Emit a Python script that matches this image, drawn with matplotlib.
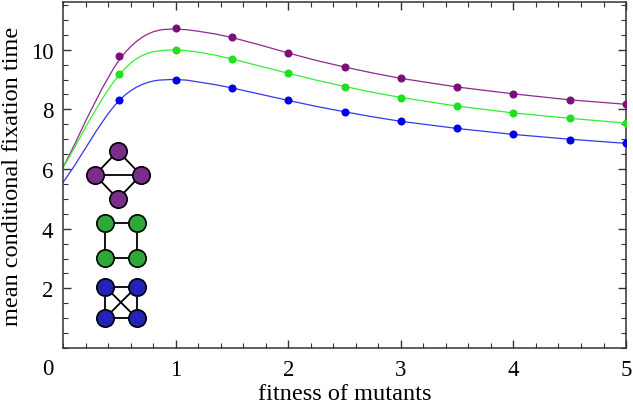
import numpy as np
import matplotlib.pyplot as plt
from matplotlib.ticker import MultipleLocator

plt.rcParams['font.family'] = ['Liberation Serif', 'DejaVu Serif']

# simulated points (fitness r)
r_pts = [0.5, 1.0, 1.5, 2.0, 2.5, 3.0, 3.5, 4.0, 4.5, 5.0]
purple_pts = [9.80, 10.73, 10.41, 9.89, 9.42, 9.04, 8.74, 8.52, 8.31, 8.17]
green_pts = [9.20, 9.98, 9.69, 9.21, 8.76, 8.39, 8.11, 7.88, 7.70, 7.54]
blue_pts = [8.31, 8.99, 8.72, 8.30, 7.91, 7.60, 7.36, 7.16, 6.99, 6.86]

# analytic curves
r_curve = [0.0, 0.05, 0.1, 0.15, 0.2, 0.25, 0.3, 0.35, 0.4, 0.45, 0.5, 0.55, 0.6, 0.65,
           0.7, 0.75, 0.8, 0.85, 0.9, 0.95, 1.0, 1.1, 1.2, 1.35, 1.5, 1.75, 2.0,
           2.25, 2.5, 2.75, 3.0, 3.5, 4.0, 4.5, 5.0]
purple_curve = [6.05, 6.42, 6.80, 7.20, 7.60, 7.98, 8.35, 8.72, 9.05, 9.38, 9.66, 9.90,
                10.10, 10.27, 10.41, 10.52, 10.60, 10.65, 10.68, 10.69, 10.69, 10.67,
                10.62, 10.53, 10.41, 10.16, 9.89, 9.64, 9.42, 9.22, 9.04, 8.75, 8.52,
                8.32, 8.17]
green_curve = [6.05, 6.37, 6.70, 7.05, 7.40, 7.73, 8.05, 8.36, 8.65, 8.92, 9.16, 9.37,
               9.55, 9.69, 9.80, 9.88, 9.93, 9.96, 9.98, 9.99, 9.99, 9.97, 9.92,
               9.82, 9.69, 9.45, 9.21, 8.98, 8.77, 8.57, 8.40, 8.11, 7.88, 7.70, 7.54]
blue_curve = [5.55, 5.82, 6.10, 6.40, 6.70, 7.00, 7.30, 7.58, 7.85, 8.09, 8.30, 8.48,
              8.62, 8.74, 8.83, 8.90, 8.95, 8.98, 8.99, 9.00, 9.00, 8.98, 8.92, 8.83,
              8.72, 8.51, 8.30, 8.10, 7.92, 7.75, 7.60, 7.36, 7.16, 7.00, 6.86]

# little graph icons: node layout (unit coords) and edges
diamond_nodes = [(0.0, 0.5), (-0.5, 0.0), (0.5, 0.0), (0.0, -0.5)]
diamond_edges = [(0, 1), (0, 2), (1, 2), (1, 3), (2, 3)]
square_nodes = [(-0.5, 0.5), (0.5, 0.5), (-0.5, -0.5), (0.5, -0.5)]
square_edges = [(0, 1), (1, 3), (3, 2), (2, 0)]
k4_edges = [(0, 1), (1, 3), (3, 2), (2, 0), (0, 3), (1, 2)]

fig = plt.figure(figsize=(6.33, 4.06), dpi=100)
ax = fig.add_axes([0.0995, 0.1404, 0.8895, 0.8522])

series = [
    (purple_curve, purple_pts, '#8e2a8e', '#7a0f7a'),
    (green_curve, green_pts, '#33ee33', '#22dd22'),
    (blue_curve, blue_pts, '#3535f0', '#0000e6'),
]
for curve, pts, lc, mc in series:
    ax.plot(r_curve, curve, color=lc, lw=0.9, zorder=2)
    ax.plot(r_pts, pts, 'o', color=mc, ms=4.8, zorder=3)


def draw_icon(cx, cy, w, h, nodes, edges, color):
    xs = [cx + nx * w for nx, ny in nodes]
    ys = [cy + ny * h for nx, ny in nodes]
    for a, b in edges:
        ax.plot([xs[a], xs[b]], [ys[a], ys[b]], color='black', lw=1.3, zorder=4)
    ax.plot(xs, ys, 'o', ms=12.5, mfc=color, mec='black', mew=1.2, zorder=5,
            clip_on=False)


draw_icon(0.488, 5.8, 0.408, 1.61, diamond_nodes, diamond_edges, '#7b2d8b')
draw_icon(0.514, 3.6, 0.281, 1.17, square_nodes, square_edges, '#2ea836')
draw_icon(0.514, 1.53, 0.281, 1.06, square_nodes, k4_edges, '#2323b8')

ax.set_xlim(0, 5)
ax.set_ylim(0, 11.6)
ax.xaxis.set_major_locator(MultipleLocator(1))
ax.xaxis.set_minor_locator(MultipleLocator(0.2))
ax.set_yticks([2, 4, 6, 8, 10])
ax.yaxis.set_minor_locator(MultipleLocator(0.5))
ax.set_xticks([1, 2, 3, 4, 5])
ax.tick_params(which='both', direction='in', top=True, right=True,
               labelsize=16.5, colors='#333333', labelcolor='black')
ax.tick_params(which='major', length=6, width=1)
ax.tick_params(axis='x', which='major', pad=8)
ax.tick_params(axis='y', which='major', pad=7)
ax.tick_params(which='minor', length=3.5, width=0.8)
for s in ax.spines.values():
    s.set_color('#333333')
    s.set_linewidth(1.1)

ax.annotate('0', xy=(0, 0), xycoords='data', xytext=(-6.5, -7.5),
            textcoords='offset points', ha='right', va='top', fontsize=16.5)

ax.set_xlabel('fitness of mutants', fontsize=17.5)
ax.xaxis.set_label_coords(0.5, -0.1)
ax.set_ylabel('mean conditional fixation time', fontsize=17.5)
ax.yaxis.set_label_coords(-0.071, 0.5)

fig.savefig('out.png', dpi=100)
